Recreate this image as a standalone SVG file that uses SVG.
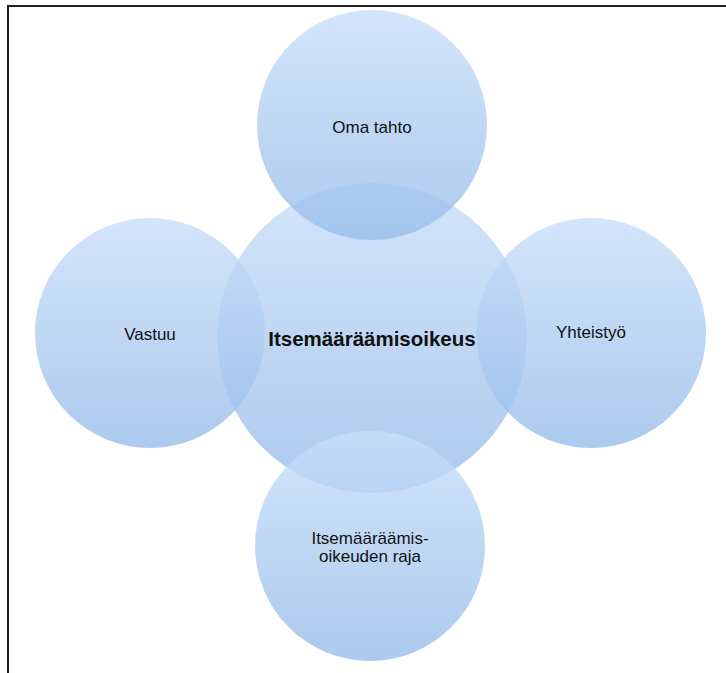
<svg xmlns="http://www.w3.org/2000/svg" width="726" height="673" viewBox="0 0 726 673">
<defs>
<linearGradient id="g" x1="0" y1="0" x2="0" y2="1">
<stop offset="0" stop-color="#c9defa"/>
<stop offset="1" stop-color="#97bde9"/>
</linearGradient>
<style>
.c{fill:url(#g);fill-opacity:0.8}
.t{font-family:"Liberation Sans",Arial,sans-serif;font-size:17px;fill:#111;text-anchor:middle}
.b{font-size:20.5px;font-weight:bold}
</style>
</defs>
<rect width="726" height="673" fill="#fff"/>
<g id="frame" fill="none" stroke="#222" stroke-width="2">
<line x1="8" y1="6" x2="726" y2="6"/>
<line x1="8" y1="5" x2="8" y2="673"/>
</g>
<g id="connectors"></g>
<g id="center"><circle class="c" cx="372" cy="338" r="155"/></g>
<g id="top"><circle class="c" cx="372" cy="125" r="115"/></g>
<g id="left"><circle class="c" cx="150" cy="333" r="115"/></g>
<g id="right"><circle class="c" cx="591" cy="333" r="115"/></g>
<g id="bottom"><circle class="c" cx="370" cy="546" r="115"/></g>
<g id="labels">
<text class="t" x="372" y="133">Oma tahto</text>
<text class="t b" x="372" y="346">Itsemääräämisoikeus</text>
<text class="t" x="150" y="340">Vastuu</text>
<text class="t" x="591" y="338">Yhteistyö</text>
<text class="t" x="370" y="544">Itsemääräämis-</text>
<text class="t" x="370" y="562">oikeuden raja</text>
</g>
</svg>
